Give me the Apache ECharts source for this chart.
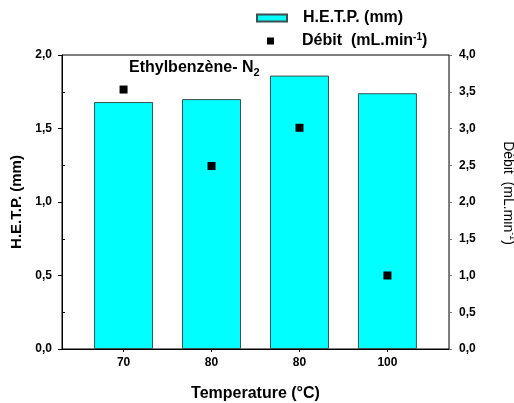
<!DOCTYPE html>
<html>
<head>
<meta charset="utf-8">
<script src="https://cdn.jsdelivr.net/npm/echarts@6/dist/echarts.min.js"></script>
<style>
  html, body { margin: 0; padding: 0; background: #fff; }
  #chart { width: 514px; height: 403px; }
</style>
</head>
<body>
<div id="chart"></div>
<script>
// Column temperatures (°C) and measured values
var temperatures = ['70', '80', '80', '100'];
var hetp = [1.68, 1.70, 1.86, 1.74];      // H.E.T.P. (mm), left axis
var debit = [3.53, 2.49, 3.01, 1.00];     // flow rate (mL.min-1), right axis
var hetpTicks = [0, 0.5, 1.0, 1.5, 2.0];
var debitTicks = [0, 0.5, 1.0, 1.5, 2.0, 2.5, 3.0, 3.5, 4.0];

var FONT = '"Liberation Sans", Arial, sans-serif';
function comma(v) { return v.toFixed(1).replace('.', ','); }

var positions = temperatures.map(function (_, i) { return i; });
var barData = hetp.map(function (v, i) { return [i, v]; });
var dotData = debit.map(function (v, i) { return [i, v]; });

var chart = echarts.init(document.getElementById('chart'), null, { renderer: 'canvas' });
chart.setOption({
  animation: false,
  textStyle: { fontFamily: FONT },
  title: {
    text: '{m|Ethylbenzène- N}{s|2}',
    left: 124, top: 53,
    textStyle: {
      rich: {
        m: { fontFamily: FONT, fontWeight: 'bold', fontSize: 16, color: '#000', lineHeight: 20 },
        s: { fontFamily: FONT, fontWeight: 'bold', fontSize: 11, color: '#000', verticalAlign: 'bottom', padding: [8, 0, 0, 0] }
      }
    }
  },
  legend: [
    {
      data: [{ name: 'H.E.T.P. (mm)', icon: 'rect' }],
      left: 251, top: 4, orient: 'vertical',
      itemWidth: 30, itemHeight: 7,
      textStyle: { fontFamily: FONT, fontWeight: 'bold', fontSize: 16, color: '#000', padding: [0, 0, 0, 11], lineHeight: 18 }
    },
    {
      data: [{ name: 'Débit', icon: 'rect' }],
      left: 262, top: 27, orient: 'vertical',
      itemWidth: 7, itemHeight: 7,
      formatter: function () { return '{m|Débit  (mL.min}{s|-1}{m|)}'; },
      textStyle: {
        padding: [0, 0, 0, 23],
        rich: {
          m: { fontFamily: FONT, fontWeight: 'bold', fontSize: 16, color: '#000', lineHeight: 18 },
          s: { fontFamily: FONT, fontWeight: 'bold', fontSize: 10, color: '#000', verticalAlign: 'top', lineHeight: 10 }
        }
      }
    }
  ],
  grid: {
    left: 62, right: 65, top: 55, bottom: 54,
    outerBoundsMode: 'none',
    containLabel: false,
    show: true, borderColor: '#000', borderWidth: 1, backgroundColor: 'transparent'
  },
  xAxis: {
    type: 'value',
    min: -0.7, max: 3.7,
    splitLine: { show: false },
    axisLine: { show: true, onZero: false, lineStyle: { color: '#000', width: 1 } },
    axisTick: { show: true, customValues: positions, length: 3, lineStyle: { color: '#000' } },
    axisLabel: {
      customValues: positions,
      margin: 8,
      fontFamily: FONT, fontWeight: 'bold', fontSize: 12, color: '#000',
      formatter: function (v) { return temperatures[Math.round(v)]; }
    },
    name: 'Temperature (°C)',
    nameLocation: 'middle', nameGap: 37,
    nameTextStyle: { fontFamily: FONT, fontWeight: 'bold', fontSize: 16, color: '#000' }
  },
  yAxis: [
    {
      type: 'value', position: 'left',
      min: 0, max: 2, interval: 0.5,
      splitLine: { show: false },
      axisLine: { show: true, onZero: false, lineStyle: { color: '#000' } },
      axisTick: { show: true, inside: false, length: 4, lineStyle: { color: '#000' } },
      axisLabel: {
        margin: 10, fontFamily: FONT, fontWeight: 'bold', fontSize: 12, color: '#000',
        customValues: hetpTicks,
        formatter: comma
      },
      name: 'H.E.T.P. (mm)',
      nameLocation: 'middle', nameRotate: 90, nameGap: 38,
      nameTextStyle: { fontFamily: FONT, fontWeight: 'bold', fontSize: 15, color: '#000' }
    },
    {
      type: 'value', position: 'right',
      min: 0, max: 4, interval: 0.5,
      splitLine: { show: false },
      axisLine: { show: true, onZero: false, lineStyle: { color: '#777' } },
      axisTick: { show: true, inside: false, length: 3, lineStyle: { color: '#777' } },
      axisLabel: {
        margin: 10, fontFamily: FONT, fontWeight: 'bold', fontSize: 12, color: '#000',
        customValues: debitTicks,
        formatter: comma
      },
      name: '{m|Débit  (mL.min}{s|-1}{m|)}',
      nameLocation: 'middle', nameRotate: -90, nameGap: 50,
      nameTextStyle: {
        padding: [0, 18, 0, 0],
        rich: {
          m: { fontFamily: FONT, fontSize: 14, color: '#000', lineHeight: 18 },
          s: { fontFamily: FONT, fontSize: 9, color: '#000', verticalAlign: 'top', lineHeight: 10 }
        }
      }
    },
    {
      // minor ticks drawn inward on the left frame
      type: 'value', position: 'left',
      min: 0, max: 2,
      splitLine: { show: false },
      axisLine: { show: false, onZero: false },
      axisLabel: { show: false },
      axisTick: { show: true, inside: true, length: 3, customValues: [0.25, 0.75, 1.25, 1.75], lineStyle: { color: '#000' } }
    }
  ],
  series: [
    {
      name: 'H.E.T.P. (mm)',
      type: 'bar',
      yAxisIndex: 0,
      barWidth: 59,
      data: barData,
      itemStyle: { color: '#00FFFF', borderColor: '#3d4f4f', borderWidth: 1 },
      z: 2
    },
    {
      name: 'Débit',
      type: 'scatter',
      yAxisIndex: 1,
      symbol: 'rect',
      symbolSize: 8,
      data: dotData,
      itemStyle: { color: '#000', opacity: 1 },
      z: 3
    }
  ]
});
</script>
</body>
</html>
